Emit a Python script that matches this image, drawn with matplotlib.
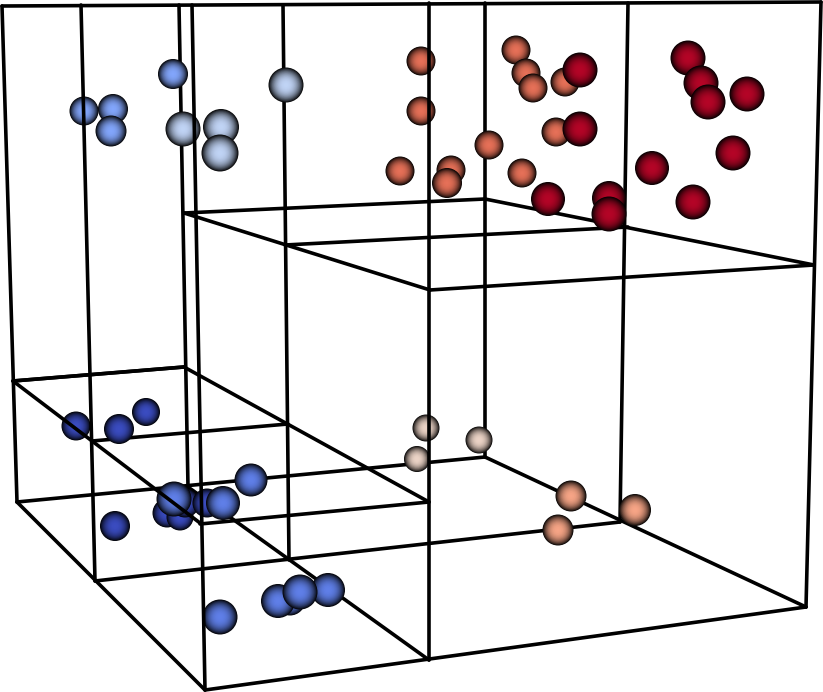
# spheres and wire box in pixel units
import numpy as np
import matplotlib
matplotlib.use('Agg')
import matplotlib.pyplot as plt

# spheres, listed back to front
sphere_x = [84, 113, 111, 173, 183, 221, 220, 286,
            76, 119, 146, 115, 167, 180, 185, 207, 174, 223, 251,
            220, 328, 290, 278, 300,
            426, 417, 479, 571, 558, 635,
            421, 421, 516, 526, 533, 565, 556, 489, 522, 400, 451, 447,
            580, 580, 688, 701, 708, 747, 733, 652, 693, 548, 609, 609]
sphere_y = [111, 109, 131, 74, 129, 127, 153, 85,
            426, 429, 412, 526, 513, 517, 503, 503, 499, 503, 480,
            617, 590, 600, 601, 592,
            428, 459, 440, 496, 530, 510,
            61, 111, 50, 73, 88, 82, 132, 145, 173, 171, 170, 183,
            70, 129, 58, 83, 102, 94, 153, 168, 202, 199, 198, 214]
sphere_size = [14.5, 15, 15.5, 15, 17.5, 18, 18.5, 17.5,
               14.5, 15, 14, 15, 14.5, 13.5, 14.5, 14.5, 17.5, 17, 16.5,
               17.5, 17, 15.5, 17, 17.5,
               13.5, 13, 13.5, 15.5, 15.5, 16,
               14.5, 14.5, 14.5, 14.5, 14.5, 14.5, 14.5, 14.5, 14.5, 14.5, 14.5, 15,
               17.5, 17.5, 17.5, 17.5, 17.5, 17.5, 17.5, 17, 17.5, 17, 17, 17.5]
sphere_val = [.22, .22, .22, .22, .40, .40, .40, .40,
              0., 0., 0., 0., 0., 0., 0., 0., .12, .12, .12,
              .12, .12, .12, .12, .12,
              .56, .56, .56, .72, .72, .72,
              .84, .84, .84, .84, .84, .84, .84, .84, .84, .84, .84, .84,
              1., 1., 1., 1., 1., 1., 1., 1., 1., 1., 1., 1.]

# wire box: lines behind the spheres
back_x0 = [2, 179, 283, 485, 628, 821, 17, 485, 188, 184, 95, 13, 92, 200, 184, 184, 485, 285, 430, 2]
back_y0 = [6, 5, 5, 3, 3, 2, 502, 457, 487, 367, 581, 381, 441, 524, 367, 213, 199, 245, 290, 6]
back_x1 = [17, 188, 289, 485, 620, 806, 485, 806, 429, 429, 620, 184, 288, 429, 13, 485, 814, 628, 814, 821]
back_y1 = [502, 487, 560, 457, 522, 607, 457, 607, 660, 502, 522, 367, 424, 502, 381, 199, 265, 227, 265, 2]

# wire box: lines in front of the spheres
front_x0 = [81, 192, 429, 13, 17, 205, 184]
front_y0 = [5, 5, 3, 381, 502, 690, 213]
front_x1 = [95, 205, 429, 200, 205, 806, 430]
front_y1 = [581, 690, 660, 523, 690, 607, 290]

DPI = 100
fig = plt.figure(figsize=(8.23, 6.92), dpi=DPI)
ax = fig.add_axes([0, 0, 1, 1])
ax.set_xlim(0, 823)
ax.set_ylim(692, 0)
ax.axis('off')

cmap = plt.cm.coolwarm


def draw_lines(x0, y0, x1, y1, z):
    for a, b, c, d in zip(x0, y0, x1, y1):
        ax.plot([a, c], [b, d], color='black', lw=2.6, solid_capstyle='round', zorder=z)


def draw_sphere(x, y, size, val, z):
    # concentric discs, dark at the rim and full colour in the middle
    rings = np.linspace(1, 0.02, 26)
    shade = 0.05 + 0.95 * (1 - rings ** 2.6)
    base = np.array(cmap(val)[:3])
    colors = np.clip(np.outer(shade, base), 0, 1)
    diam = 2 * size * rings * 72 / DPI
    ax.scatter(np.full(rings.size, x), np.full(rings.size, y), s=diam ** 2,
               c=colors, linewidths=0, zorder=z)


draw_lines(back_x0, back_y0, back_x1, back_y1, 1)
for i in range(len(sphere_x)):
    draw_sphere(sphere_x[i], sphere_y[i], sphere_size[i], sphere_val[i], 2 + i * 0.01)
draw_lines(front_x0, front_y0, front_x1, front_y1, 3)

fig.savefig('out.png', dpi=DPI)
